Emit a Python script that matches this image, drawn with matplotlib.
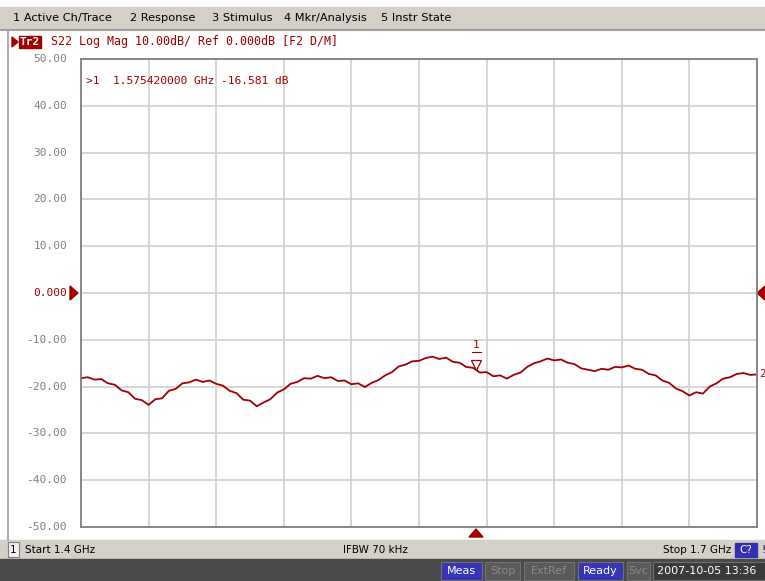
import matplotlib.pyplot as plt
from matplotlib.patches import Rectangle, Polygon

# trace S22, log mag (dB), 0.003 GHz step
freq_start = 1.4
freq_step = 0.003
s22_db = [-18.2, -18.0, -18.5, -18.4, -19.3, -19.6, -20.8, -21.2, -22.6, -22.9,
          -23.9, -22.7, -22.5, -20.9, -20.5, -19.3, -19.1, -18.5, -19.0, -18.7,
          -19.4, -19.8, -20.9, -21.4, -22.8, -23.0, -24.2, -23.4, -22.7, -21.3,
          -20.6, -19.4, -19.0, -18.2, -18.3, -17.7, -18.2, -18.0, -18.8, -18.7,
          -19.5, -19.3, -20.1, -19.2, -18.6, -17.6, -16.9, -15.7, -15.3, -14.6,
          -14.5, -13.9, -13.6, -14.1, -13.8, -14.7, -14.9, -15.8, -16.0, -17.0,
          -16.9, -17.8, -17.6, -18.3, -17.5, -17.0, -15.8, -15.0, -14.6, -14.0,
          -14.4, -14.2, -14.9, -15.2, -16.1, -16.4, -16.7, -16.2, -16.4, -15.8,
          -15.9, -15.5, -16.2, -16.4, -17.3, -17.6, -18.7, -19.2, -20.4, -21.0,
          -21.9, -21.2, -21.5, -20.0, -19.3, -18.3, -18.0, -17.3, -17.1, -17.5,
          -17.4]
freqs = [freq_start + i * freq_step for i in range(len(s22_db))]

marker_f = 1.57542
marker_db = -16.581

y_ticks = [50, 40, 30, 20, 10, 0, -10, -20, -30, -40, -50]
y_labels = ['50.00', '40.00', '30.00', '20.00', '10.00', '0.000',
            '-10.00', '-20.00', '-30.00', '-40.00', '-50.00']

menu_items = ['1 Active Ch/Trace', '2 Response', '3 Stimulus', '4 Mkr/Analysis', '5 Instr State']
menu_x = [13, 130, 212, 284, 381]

RED = '#a00000'
GRAY = '#d4d0c8'
MONO = 'DejaVu Sans Mono'

W, H = 765, 581
fig = plt.figure(figsize=(W / 100, H / 100), dpi=100)
fig.patch.set_facecolor('white')

# overlay in pixel coordinates for the instrument chrome
bg = fig.add_axes([0, 0, 1, 1])
bg.set_xlim(0, W)
bg.set_ylim(H, 0)
bg.axis('off')

# menu bar
bg.add_patch(Rectangle((0, 7), W, 22, color=GRAY))
bg.plot([0, W], [29.5, 29.5], color='#a0a0a0', lw=1.5)
for name, x in zip(menu_items, menu_x):
    bg.text(x, 18, name, fontsize=8.2, va='center', ha='left', color='black')

# channel window border
bg.plot([8.5, 8.5], [31, 540], color='#a0a0a0', lw=1.2)

# trace header
bg.add_patch(Polygon([[12, 37], [12, 47], [18, 42]], color=RED))
bg.add_patch(Rectangle((19, 36), 22, 12, color=RED))
bg.text(30, 42, 'Tr2', fontsize=8, color='white', ha='center', va='center', family=MONO, weight='bold')
bg.text(51, 42, 'S22 Log Mag 10.00dB/ Ref 0.000dB [F2 D/M]', fontsize=8.4,
        color=RED, ha='left', va='center', family=MONO)

# stimulus status bar
bg.add_patch(Rectangle((0, 540), W, 19, color=GRAY))
bg.add_patch(Rectangle((8, 542), 11, 15, facecolor='#f0f0f0', edgecolor='#808080', lw=0.8))
bg.text(13.5, 550, '1', fontsize=7.5, ha='center', va='center')
bg.text(25, 550, 'Start 1.4 GHz', fontsize=7.5, ha='left', va='center')
bg.text(375, 550, 'IFBW 70 kHz', fontsize=7.5, ha='center', va='center')
bg.text(731, 550, 'Stop 1.7 GHz', fontsize=7.5, ha='right', va='center')
bg.add_patch(Rectangle((735, 543), 22, 14, color='#3030b0'))
bg.text(746, 550, 'C?', fontsize=7.5, ha='center', va='center', color='white')
bg.text(761, 550, '!', fontsize=7.5, ha='left', va='center')

# bottom instrument status bar
bg.add_patch(Rectangle((0, 559), W, 22, color='#4a4a4a'))
badges = [('Meas', 441, 482, '#3535b5', 'white'),
          ('Stop', 485, 520, '#5a5a5a', '#8a8a8a'),
          ('ExtRef', 524, 574, '#5a5a5a', '#8a8a8a'),
          ('Ready', 578, 623, '#3535b5', 'white'),
          ('Svc', 627, 650, '#5a5a5a', '#8a8a8a'),
          ('2007-10-05 13:36', 653, 790, '#3a3a3a', 'white')]
for label, x0, x1, fc, tc in badges:
    bg.add_patch(Rectangle((x0, 562), x1 - x0, 18, facecolor=fc, edgecolor='#707070', lw=0.8))
    if label.startswith('2007'):
        bg.text(x0 + 4, 571, label, fontsize=8, ha='left', va='center', color=tc)
    else:
        bg.text((x0 + x1) / 2, 571, label, fontsize=8, ha='center', va='center', color=tc)

# y tick labels and reference markers
ax_left, ax_top, ax_right, ax_bot = 81, 59, 757, 527
def y_pix(db):
    return ax_top + (50 - db) / 100 * (ax_bot - ax_top)

for v, lab in zip(y_ticks, y_labels):
    c = RED if v == 0 else '#808080'
    bg.text(67, y_pix(v), lab, fontsize=8, family=MONO, color=c, ha='right', va='center')
bg.add_patch(Polygon([[70, 286], [70, 300], [78, 293]], color=RED))
bg.add_patch(Polygon([[765, 286], [765, 300], [757, 293]], color=RED))
bg.text(759, y_pix(s22_db[-1]), '2', fontsize=8, family=MONO, color=RED, ha='left', va='center')
bg.add_patch(Polygon([[469, 537], [483, 537], [476, 529]], color=RED))

# main plot
ax = fig.add_axes([ax_left / W, (H - ax_bot) / H, (ax_right - ax_left) / W, (ax_bot - ax_top) / H])
ax.set_xlim(1.4, 1.7)
ax.set_ylim(-50, 50)
ax.set_xticks([1.4 + 0.03 * i for i in range(11)])
ax.set_yticks(y_ticks)
ax.grid(True, color='#d0d0d0', lw=1.2)
ax.tick_params(left=False, bottom=False, labelleft=False, labelbottom=False)
for s in ax.spines.values():
    s.set_color('#808080')
    s.set_linewidth(1.3)
ax.plot(freqs, s22_db, color=RED, lw=1.3)

# marker 1
ax.plot([marker_f], [marker_db + 1.3], marker='v', markersize=7, markerfacecolor='white',
        markeredgecolor=RED, markeredgewidth=0.9, clip_on=False)
ax.text(marker_f, marker_db + 5.4, '1', fontsize=8, family=MONO, color=RED, ha='center', va='center')
ax.plot([marker_f - 0.002, marker_f + 0.002], [marker_db + 3.9, marker_db + 3.9], color=RED, lw=0.8)
ax.text(0.007, 0.953, '>1  1.575420000 GHz -16.581 dB', transform=ax.transAxes,
        fontsize=8.1, family=MONO, color=RED, ha='left', va='center')

fig.savefig('out.png', dpi=100)
